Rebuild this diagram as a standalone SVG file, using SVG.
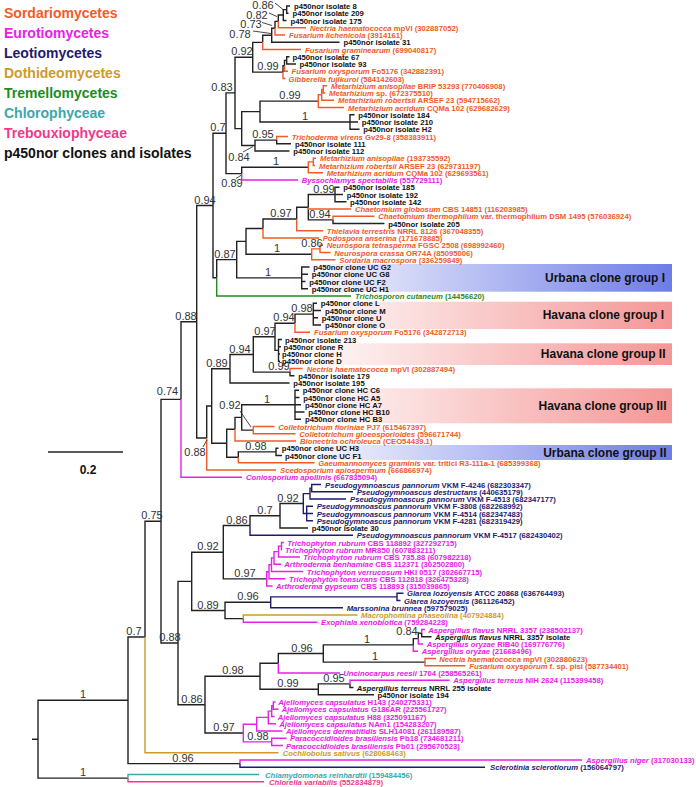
<svg xmlns="http://www.w3.org/2000/svg" width="696" height="787" viewBox="0 0 696 787">
<style>
text{font-family:"Liberation Sans",Arial,sans-serif}
.t{font-size:7.7px;font-weight:bold}
.i{font-style:italic}
.lg{font-size:14px;font-weight:bold}
.bs{font-size:11px;fill:#333;text-anchor:middle}
.bd{font-size:12px;font-weight:bold;fill:#111;text-anchor:end}
.k{fill:#111}.o{fill:#F15A29}.m{fill:#E820E8}.n{fill:#1F1A6E}.g{fill:#CE9A2B}.gr{fill:#1E8C1E}.te{fill:#38A8AC}.p{fill:#F0398A}
path{fill:none;stroke-width:1.4}
.sk{stroke:#222}.so{stroke:#F15A29}.sm{stroke:#E820E8}.sn{stroke:#1F1A6E}.sg{stroke:#CE9A2B}.sgr{stroke:#1E8C1E}.ste{stroke:#38A8AC}.sp{stroke:#F0398A}
.ptr{stroke:#333;stroke-width:0.9}
</style>
<defs>
<linearGradient id="gb" x1="0" x2="1" y1="0" y2="0"><stop offset="0" stop-color="#6E7CE6" stop-opacity="0"/><stop offset="1" stop-color="#6E7CE6"/></linearGradient>
<linearGradient id="gp" x1="0" x2="1" y1="0" y2="0"><stop offset="0" stop-color="#F59696" stop-opacity="0"/><stop offset="1" stop-color="#F59696"/></linearGradient>
</defs>
<rect width="696" height="787" fill="#fff"/>
<g id="bands">
<g id="urbana1"><rect x="290" y="264" width="382" height="27.7" fill="url(#gb)"/><text class="bd" x="665" y="281.5">Urbana clone group I</text></g>
<g id="havana1"><rect x="290" y="301.7" width="382" height="27.3" fill="url(#gp)"/><text class="bd" x="664" y="319.3">Havana clone group I</text></g>
<g id="havana2"><rect x="290" y="343.3" width="382" height="21.7" fill="url(#gp)"/><text class="bd" x="665.5" y="358.3">Havana clone group II</text></g>
<g id="havana3"><rect x="290" y="388.3" width="382" height="35" fill="url(#gp)"/><text class="bd" x="666.5" y="410.3">Havana clone group III</text></g>
<g id="urbana2"><rect x="290" y="445" width="382" height="15" fill="url(#gb)"/><text class="bd" x="666.5" y="456.6">Urbana clone group II</text></g>
</g>
<g id="legend">
<text class="lg o" x="4" y="17.5">Sordariomycetes</text>
<text class="lg m" x="4" y="37.5">Eurotiomycetes</text>
<text class="lg n" x="4" y="57.5">Leotiomycetes</text>
<text class="lg g" x="4" y="77.5">Dothideomycetes</text>
<text class="lg gr" x="4" y="97.5">Tremellomycetes</text>
<text class="lg te" x="4" y="117.5">Chlorophyceae</text>
<text class="lg p" x="4" y="137.5">Trebouxiophyceae</text>
<text class="lg k" x="4" y="157.5">p450nor clones and isolates</text>
</g>
<g id="scale"><path class="sk" d="M48 452H123"/><text x="88" y="474" style="font-size:12px;font-weight:bold;text-anchor:middle" class="k">0.2</text></g>
<g id="connectors">
<path class="sk" d="M286.7 9.625V6H290M286.7 9.625V13.25H288.5M283.3 15.06V9.625H286.7M283.3 15.06V20.5H286.5M278.3 21.41V15.06H283.3M275 28.2V21.41H278.3M271.7 35.23V28.2H275M271.7 35.23V42.25H339.5M262.7 42.36V35.23H271.7M286.7 60.375V56.75H289.5M286.7 60.375V64H296M284.5 65.8V60.375H286.7M283 72.15V65.8H284.5M252.7 57.26V42.36H262.7M252.7 57.26V72.15H283M350 122V114.75H354.5M350 122H358M350 122V129.25H359.5M260 111.6V101.15H318.3M260 111.6V122H350M276.7 140.1V143.75H291M255 145.56V140.1H276.7M255 145.56V151H289.5M241.7 128.6V111.6H260M241.7 128.6V145.56H255M235 92.9V57.26H252.7M235 92.9V128.6H241.7M241.7 173.65V167.3H308.3M226 133.3V92.9H235M226 133.3V173.65H241.7"/>
<path class="sk" d="M335 194.5V187.25H339.5M335 194.5H343M335 194.5V201.75H346.5M333 219.9V223.5H384.5M308.3 207.2V194.5H335M308.3 207.2V219.9H333M296.7 219V207.2H308.3M263 228.5V219H296.7M246 241.4V228.5H263M246 241.4V254.3H311.7M301.7 277.9V267H309.5M301.7 277.9V274.25H308M301.7 277.9V281.5H305.5M301.7 277.9V288.75H308M236.7 259.6V241.4H246M236.7 259.6V277.9H301.7M216.7 277.8V259.6H236.7M213 205.5V133.3H226M213 205.5V277.8H216.7"/>
<path class="sk" d="M313.3 314.1V303.25H317M313.3 314.1V310.5H321M313.3 314.1V317.75H318M313.3 314.1V325H321M295 323.2V314.1H313.3M278.5 350.4V339.5H282M278.5 350.4V346.75H281M278.5 350.4V354H280M278.5 350.4V361.25H280M275 336.8V323.2H295M275 336.8V350.4H278.5M290 372.1V375.75H294.5M253.3 354.5V336.8H275M253.3 354.5V372.1H290M230 368.8V354.5H253.3M230 368.8V383H289.5M295 404.75V390.25H299M295 404.75V397.5H299.5M295 404.75H301M295 404.75V412H304.5M295 404.75V419.25H301M241.7 417.4V404.75H295M241.7 417.4V430.1H253.3M235 429.2V417.4H241.7M276 451.9V448.25H278.5M276 451.9V455.5H282M238.3 457.3V451.9H276M226.7 443.25V429.2H235M226.7 443.25V457.3H238.3M211.7 406V368.8H230M211.7 406V443.25H226.7M206.7 438V406H211.7M196.7 321.8V205.5H213M196.7 321.8V438H206.7M181 399.4V321.8H196.7"/>
<path class="sk" d="M280 515.75V503.5H303.3M280 515.75V528H308M250 525.5V515.75H280M223.3 552.2V525.5H250M223.3 552.2V578.9H266.7M225 610.5V602.3H270.7M225 610.5V618.6H243.3M191.7 581.4V552.2H223.3M191.7 581.4V610.5H225M421.7 633.1V636.75H431.5M418.3 638.6V633.1H421.7M413.3 644.9V638.6H418.3M323.3 653.5V644.9H413.3M323.3 653.5V662.1H425M278.3 663.25V653.5H323.3M350 683.9V687.5H353.5M318.3 689.3V683.9H350M318.3 689.3V694.75H374M260 676.3V663.25H278.3M260 676.3V689.3H318.3M205 704.7V676.3H260M205 704.7V733H243.3M178 643V581.4H191.7M178 643V704.7H205M161 521.2V399.4H181M161 521.2V643H178M145 637V521.2H161M128 700.3V637H145M128 700.3V763.6H240M38 739.2V700.3H128M38 739.2V778.1H128M32 739.2H38"/>
<path class="so" d="M278.3 21.41V27.75H306M275 28.2V35H285M262.7 42.36V49.5H301M284.5 65.8V71.25H288M283 72.15V78.5H285.5M323.3 89.375V85.75H327M323.3 89.375V93H325M321.7 94.8V89.375H323.3M321.7 94.8V100.25H334M318.3 101.15V94.8H321.7M318.3 101.15V107.5H344M276.7 140.1V136.5H288M313.3 161.9V158.25H316M313.3 161.9V165.5H315M308.3 167.3V161.9H313.3M308.3 167.3V172.75H323M308.3 207.2V209H351M333 219.9V216.25H374.5M296.7 219V230.75H323M263 228.5V238H319M320 248.9V245.25H323M320 248.9V252.5H330.5M311.7 254.3V248.9H320M311.7 254.3V259.75H335.5M295 323.2V332.25H310M290 372.1V368.5H302.5M253.3 430.1V426.5H274.5M253.3 430.1V433.75H295.5M235 429.2V441H296M238.3 457.3V462.75H314.5M206.7 438V470H276M425 662.1V658.5H436M425 662.1V665.75H465.5"/>
<path class="sm" d="M241.7 173.65V180H298M181 399.4V477.25H242M281.5 546.1V542.5H284M281.5 546.1V549.75H282M278.5 551.6V546.1H281.5M278.5 551.6V557H300M274 557.9V551.6H278.5M274 557.9V564.25H281M271.5 564.7V557.9H274M271.5 564.7V571.5H303M269 571.7V564.7H271.5M269 571.7V578.75H285.5M266.7 578.9V571.7H269M266.7 578.9V586H272.5M243.3 618.6V622.25H317.5M421.7 633.1V629.5H425M418.3 638.6V644H423M413.3 644.9V651.25H418M278.3 663.25V673H340M350 683.9V680.25H449.5M273.3 705.6V702H275.5M273.3 705.6V709.25H278.5M271.7 711.1V705.6H273.3M271.7 711.1V716.5H274.5M268.3 717.4V711.1H271.7M268.3 717.4V723.75H276M256.7 724.2V717.4H268.3M256.7 724.2V731H282.5M271.7 741.9V738.25H286.5M271.7 741.9V745.5H283M243.3 733V724.2H256.7M243.3 733V741.9H271.7M240 763.6V760H582"/>
<path class="sn" d="M311.7 488.1V484.5H321M311.7 488.1V491.75H353M310 493.6V488.1H311.7M310 493.6V499H346M306.7 513.5V506.25H313M306.7 513.5H313M306.7 513.5V520.75H313M303.3 503.5V493.6H310M303.3 503.5V513.5H306.7M250 525.5V535.25H353M397 596.9V593.25H403.5M397 596.9V600.5H400.5M270.7 602.3V596.9H397M270.7 602.3V607.75H343M240 763.6V767.25H485"/>
<path class="sg" d="M243.3 618.6V615H357.5M145 637V752.75H278.5"/>
<path class="sgr" d="M216.7 277.8V296H351"/>
<path class="ste" d="M128 778.1V774.5H259"/>
<path class="sp" d="M128 778.1V781.75H264"/>
<path class="ptr" d="M275 3L283 9.5M269 13L277 16.5M262 22.5L272 25.5M253 31L271 33.5M243 152L253 146.5M236 178.5L241.5 175M240 411L251 427M203 447L207 440M417 632L421 634"/>
</g>
<g id="support">
<text class="bs" x="263" y="9">0.86</text>
<text class="bs" x="257" y="19">0.82</text>
<text class="bs" x="251" y="28">0.73</text>
<text class="bs" x="240" y="38">0.78</text>
<text class="bs" x="242" y="55">0.92</text>
<text class="bs" x="268" y="70">0.99</text>
<text class="bs" x="222" y="91">0.83</text>
<text class="bs" x="290" y="99">0.99</text>
<text class="bs" x="305" y="120">1</text>
<text class="bs" x="218" y="131">0.7</text>
<text class="bs" x="263" y="138">0.95</text>
<text class="bs" x="239" y="161">0.84</text>
<text class="bs" x="276" y="165">1</text>
<text class="bs" x="232" y="187">0.89</text>
<text class="bs" x="205" y="203.5">0.94</text>
<text class="bs" x="324" y="192.5">0.99</text>
<text class="bs" x="281" y="217">0.97</text>
<text class="bs" x="320" y="218">0.94</text>
<text class="bs" x="225" y="257.6">0.87</text>
<text class="bs" x="277" y="252.3">1</text>
<text class="bs" x="312" y="247">0.86</text>
<text class="bs" x="268" y="276">1</text>
<text class="bs" x="186" y="320">0.88</text>
<text class="bs" x="302" y="312">0.98</text>
<text class="bs" x="284" y="321">0.94</text>
<text class="bs" x="265" y="335">0.97</text>
<text class="bs" x="240" y="352.5">0.94</text>
<text class="bs" x="217" y="367">0.89</text>
<text class="bs" x="279" y="370">0.99</text>
<text class="bs" x="167.5" y="395">0.74</text>
<text class="bs" x="230" y="409">0.92</text>
<text class="bs" x="267" y="402.7">1</text>
<text class="bs" x="195" y="456">0.88</text>
<text class="bs" x="256" y="450">0.98</text>
<text class="bs" x="237" y="523.5">0.86</text>
<text class="bs" x="265" y="513.7">0.7</text>
<text class="bs" x="288" y="501.5">0.92</text>
<text class="bs" x="245" y="577">0.97</text>
<text class="bs" x="208" y="550">0.92</text>
<text class="bs" x="208" y="608.5">0.89</text>
<text class="bs" x="248" y="600.3">0.96</text>
<text class="bs" x="152" y="519">0.75</text>
<text class="bs" x="170" y="641">0.88</text>
<text class="bs" x="134" y="635">0.7</text>
<text class="bs" x="407" y="635">0.84</text>
<text class="bs" x="367" y="643">1</text>
<text class="bs" x="302" y="651.5">0.96</text>
<text class="bs" x="375" y="660">1</text>
<text class="bs" x="233" y="674.3">0.98</text>
<text class="bs" x="288" y="687.3">0.99</text>
<text class="bs" x="334" y="682">0.95</text>
<text class="bs" x="192" y="702.7">0.86</text>
<text class="bs" x="224" y="731">0.97</text>
<text class="bs" x="258" y="740">0.98</text>
<text class="bs" x="183" y="761.6">0.96</text>
<text class="bs" x="83" y="698.3">1</text>
<text class="bs" x="83" y="776">1</text>
</g>
<g id="leaves">
<g id="l1"><text class="t k" x="294" y="9">p450nor isolate 8</text></g>
<g id="l2"><text class="t k" x="292.5" y="16.25">p450nor isolate 209</text></g>
<g id="l3"><text class="t k" x="290.5" y="23.5">p450nor isolate 175</text></g>
<g id="l4"><text class="t o" x="310" y="30.75"><tspan class="i">Nectria haematococca</tspan> mpVI (302887052)</text></g>
<g id="l5"><text class="t o" x="289" y="38"><tspan class="i">Fusarium lichenicola</tspan> (3914161)</text></g>
<g id="l6"><text class="t k" x="343.5" y="45.25">p450nor isolate 31</text></g>
<g id="l7"><text class="t o" x="305" y="52.5"><tspan class="i">Fusarium graminearum</tspan> (699040817)</text></g>
<g id="l8"><text class="t k" x="292.5" y="59.75">p450nor isolate 67</text></g>
<g id="l9"><text class="t k" x="299.5" y="67">p450nor isolate 93</text></g>
<g id="l10"><text class="t o" x="291.5" y="74.25"><tspan class="i">Fusarium oxysporum</tspan> Fo5176 (342882391)</text></g>
<g id="l11"><text class="t o" x="288.5" y="81.5"><tspan class="i">Gibberella fujikuroi</tspan> (584142603)</text></g>
<g id="l12"><text class="t o" x="331" y="88.75"><tspan class="i">Metarhizium anisopliae</tspan> BRIP 53293 (770406908)</text></g>
<g id="l13"><text class="t o" x="329" y="96"><tspan class="i">Metarhizium</tspan> sp. (672375510)</text></g>
<g id="l14"><text class="t o" x="338" y="103.25"><tspan class="i">Metarhizium robertsii</tspan> ARSEF 23 (594715662)</text></g>
<g id="l15"><text class="t o" x="348" y="110.5"><tspan class="i">Metarhizium acridum</tspan> CQMa 102 (629682629)</text></g>
<g id="l16"><text class="t k" x="358.3" y="117.75">p450nor isolate 184</text></g>
<g id="l17"><text class="t k" x="361.7" y="125">p450nor isolate 210</text></g>
<g id="l18"><text class="t k" x="363.3" y="132.25">p450nor isolate H2</text></g>
<g id="l19"><text class="t o" x="291.7" y="139.5"><tspan class="i">Trichoderma virens</tspan> Gv29-8 (358383911)</text></g>
<g id="l20"><text class="t k" x="295" y="146.75">p450nor isolate 111</text></g>
<g id="l21"><text class="t k" x="293.3" y="154">p450nor isolate 112</text></g>
<g id="l22"><text class="t o" x="320" y="161.25"><tspan class="i">Metarhizium anisopliae</tspan> (193735592)</text></g>
<g id="l23"><text class="t o" x="319" y="168.5"><tspan class="i">Metarhizium robertsii</tspan> ARSEF 23 (629731197)</text></g>
<g id="l24"><text class="t o" x="326.7" y="175.75"><tspan class="i">Metarhizium acridum</tspan> CQMa 102 (629693561)</text></g>
<g id="l25"><text class="t m" x="301.7" y="183"><tspan class="i">Byssochlamys spectabilis</tspan> (557729111)</text></g>
<g id="l26"><text class="t k" x="343.3" y="190.25">p450nor isolate 185</text></g>
<g id="l27"><text class="t k" x="346.7" y="197.5">p450nor isolate 192</text></g>
<g id="l28"><text class="t k" x="350" y="204.75">p450nor isolate 142</text></g>
<g id="l29"><text class="t o" x="355" y="212"><tspan class="i">Chaetomium globosum</tspan> CBS 14851 (116203985)</text></g>
<g id="l30"><text class="t o" x="378.3" y="219.25"><tspan class="i">Chaetomium thermophilum</tspan> var. thermophilum DSM 1495 (576036924)</text></g>
<g id="l31"><text class="t k" x="388.3" y="226.5">p450nor isolate 205</text></g>
<g id="l32"><text class="t o" x="326.7" y="233.75"><tspan class="i">Thielavia terrestris</tspan> NRRL 8126 (367048355)</text></g>
<g id="l33"><text class="t o" x="322.7" y="241"><tspan class="i">Podospora anserina</tspan> (171678885)</text></g>
<g id="l34"><text class="t o" x="326.7" y="248.25"><tspan class="i">Neurospora tetrasperma</tspan> FGSC 2508 (698992460)</text></g>
<g id="l35"><text class="t o" x="334.3" y="255.5"><tspan class="i">Neurospora crassa</tspan> OR74A (85095006)</text></g>
<g id="l36"><text class="t o" x="339.3" y="262.75"><tspan class="i">Sordaria macrospora</tspan> (336259849)</text></g>
<g id="l37"><text class="t k" x="313.3" y="270">p450nor clone UC G2</text></g>
<g id="l38"><text class="t k" x="311.7" y="277.25">p450nor clone UC G8</text></g>
<g id="l39"><text class="t k" x="309.3" y="284.5">p450nor clone UC F2</text></g>
<g id="l40"><text class="t k" x="311.7" y="291.75">p450nor clone UC H1</text></g>
<g id="l41"><text class="t gr" x="355" y="299"><tspan class="i">Trichosporon cutaneum</tspan> (14456620)</text></g>
<g id="l42"><text class="t k" x="320.7" y="306.25">p450nor clone L</text></g>
<g id="l43"><text class="t k" x="325" y="313.5">p450nor clone M</text></g>
<g id="l44"><text class="t k" x="321.7" y="320.75">p450nor clone U</text></g>
<g id="l45"><text class="t k" x="325" y="328">p450nor clone O</text></g>
<g id="l46"><text class="t o" x="314" y="335.25"><tspan class="i">Fusarium oxysporum</tspan> Fo5176 (342872713)</text></g>
<g id="l47"><text class="t k" x="285" y="342.5">p450nor isolate 213</text></g>
<g id="l48"><text class="t k" x="283.5" y="349.75">p450nor clone R</text></g>
<g id="l49"><text class="t k" x="282" y="357">p450nor clone H</text></g>
<g id="l50"><text class="t k" x="282" y="364.25">p450nor clone D</text></g>
<g id="l51"><text class="t o" x="306.7" y="371.5"><tspan class="i">Nectria haematococca</tspan> mpVI (302887494)</text></g>
<g id="l52"><text class="t k" x="298.3" y="378.75">p450nor isolate 179</text></g>
<g id="l53"><text class="t k" x="293.3" y="386">p450nor isolate 195</text></g>
<g id="l54"><text class="t k" x="302.7" y="393.25">p450nor clone HC C6</text></g>
<g id="l55"><text class="t k" x="303.3" y="400.5">p450nor clone HC A5</text></g>
<g id="l56"><text class="t k" x="305" y="407.75">p450nor clone HC A7</text></g>
<g id="l57"><text class="t k" x="308.3" y="415">p450nor clone HC B10</text></g>
<g id="l58"><text class="t k" x="305" y="422.25">p450nor clone HC B3</text></g>
<g id="l59"><text class="t o" x="278.3" y="429.5"><tspan class="i">Colletotrichum fioriniae</tspan> PJ7 (615467397)</text></g>
<g id="l60"><text class="t o" x="299.3" y="436.75"><tspan class="i">Colletotrichum gloeosporioides</tspan> (596671744)</text></g>
<g id="l61"><text class="t o" x="300" y="444"><tspan class="i">Bionectria ochroleuca</tspan> (CEO54439.1)</text></g>
<g id="l62"><text class="t k" x="281.7" y="451.25">p450nor clone UC H3</text></g>
<g id="l63"><text class="t k" x="285" y="458.5">p450nor clone UC F1</text></g>
<g id="l64"><text class="t o" x="318.3" y="465.75"><tspan class="i">Gaeumannomyces graminis</tspan> var. tritici R3-111a-1 (685399368)</text></g>
<g id="l65"><text class="t o" x="280" y="473"><tspan class="i">Scedosporium apiospermum</tspan> (666866974)</text></g>
<g id="l66"><text class="t m" x="246" y="480.25"><tspan class="i">Coniosporium apollinis</tspan> (667835094)</text></g>
<g id="l67"><text class="t n" x="325" y="487.5"><tspan class="i">Pseudogymnoascus pannorum</tspan> VKM F-4246 (682303347)</text></g>
<g id="l68"><text class="t n" x="356.7" y="494.75"><tspan class="i">Pseudogymnoascus destructans</tspan> (440635179)</text></g>
<g id="l69"><text class="t n" x="350" y="502"><tspan class="i">Pseudogymnoascus pannorum</tspan> VKM F-4513 (682347177)</text></g>
<g id="l70"><text class="t n" x="316.7" y="509.25"><tspan class="i">Pseudogymnoascus pannorum</tspan> VKM F-3808 (682268992)</text></g>
<g id="l71"><text class="t n" x="316.7" y="516.5"><tspan class="i">Pseudogymnoascus pannorum</tspan> VKM F-4514 (682347483)</text></g>
<g id="l72"><text class="t n" x="316.7" y="523.75"><tspan class="i">Pseudogymnoascus pannorum</tspan> VKM F-4281 (682319429)</text></g>
<g id="l73"><text class="t k" x="311.7" y="531">p450nor isolate 30</text></g>
<g id="l74"><text class="t n" x="356.7" y="538.25"><tspan class="i">Pseudogymnoascus pannorum</tspan> VKM F-4517 (682430402)</text></g>
<g id="l75"><text class="t m" x="287.3" y="545.5"><tspan class="i">Trichophyton rubrum</tspan> CBS 118892 (327292715)</text></g>
<g id="l76"><text class="t m" x="285" y="552.75"><tspan class="i">Trichophyton rubrum</tspan> MR850 (607883211)</text></g>
<g id="l77"><text class="t m" x="303.3" y="560"><tspan class="i">Trichophyton rubrum</tspan> CBS 735.88 (607982218)</text></g>
<g id="l78"><text class="t m" x="284.3" y="567.25"><tspan class="i">Arthroderma benhamiae</tspan> CBS 112371 (302502800)</text></g>
<g id="l79"><text class="t m" x="306.7" y="574.5"><tspan class="i">Trichophyton verrucosum</tspan> HKI 0517 (302667715)</text></g>
<g id="l80"><text class="t m" x="289" y="581.75"><tspan class="i">Trichophyton tonsurans</tspan> CBS 112818 (326475328)</text></g>
<g id="l81"><text class="t m" x="276" y="589"><tspan class="i">Arthroderma gypseum</tspan> CBS 118893 (315039865)</text></g>
<g id="l82"><text class="t n" x="407" y="596.25"><tspan class="i">Glarea lozoyensis</tspan> ATCC 20868 (636764493)</text></g>
<g id="l83"><text class="t n" x="404" y="603.5"><tspan class="i">Glarea lozoyensis</tspan> (361126452)</text></g>
<g id="l84"><text class="t n" x="346.7" y="610.75"><tspan class="i">Marssonina brunnea</tspan> (597579025)</text></g>
<g id="l85"><text class="t g" x="361" y="618"><tspan class="i">Macrophomina phaseolina</tspan> (407924884)</text></g>
<g id="l86"><text class="t m" x="321" y="625.25"><tspan class="i">Exophiala xenobiotica</tspan> (759284228)</text></g>
<g id="l87"><text class="t m" x="428.3" y="632.5"><tspan class="i">Aspergillus flavus</tspan> NRRL 3357 (238502137)</text></g>
<g id="l88"><text class="t k" x="435" y="639.75"><tspan class="i">Aspergillus flavus</tspan> NRRL 3357 isolate</text></g>
<g id="l89"><text class="t m" x="426.7" y="647"><tspan class="i">Aspergillus oryzae</tspan> RIB40 (169776776)</text></g>
<g id="l90"><text class="t m" x="421.7" y="654.25"><tspan class="i">Aspergillus oryzae</tspan> (21668496)</text></g>
<g id="l91"><text class="t o" x="439.3" y="661.5"><tspan class="i">Nectria haematococca</tspan> mpVI (302880623)</text></g>
<g id="l92"><text class="t o" x="469.3" y="668.75"><tspan class="i">Fusarium oxysporum</tspan> f. sp. pisi (587734401)</text></g>
<g id="l93"><text class="t m" x="343.3" y="676"><tspan class="i">Uncinocarpus reesii</tspan> 1704 (258565261)</text></g>
<g id="l94"><text class="t m" x="453.3" y="683.25"><tspan class="i">Aspergillus terreus</tspan> NIH 2624 (115399458)</text></g>
<g id="l95"><text class="t k" x="356.7" y="690.5"><tspan class="i">Aspergillus terreus</tspan> NRRL 255 isolate</text></g>
<g id="l96"><text class="t k" x="377.5" y="697.75">p450nor isolate 194</text></g>
<g id="l97"><text class="t m" x="278.3" y="705"><tspan class="i">Ajellomyces capsulatus</tspan> H143 (240275331)</text></g>
<g id="l98"><text class="t m" x="281.7" y="712.25"><tspan class="i">Ajellomyces capsulatus</tspan> G186AR (225561727)</text></g>
<g id="l99"><text class="t m" x="277.7" y="719.5"><tspan class="i">Ajellomyces capsulatus</tspan> H88 (325091167)</text></g>
<g id="l100"><text class="t m" x="279.3" y="726.75"><tspan class="i">Ajellomyces capsulatus</tspan> NAm1 (154283207)</text></g>
<g id="l101"><text class="t m" x="286" y="734"><tspan class="i">Ajellomyces dermatitidis</tspan> SLH14081 (261189587)</text></g>
<g id="l102"><text class="t m" x="290" y="741.25"><tspan class="i">Paracoccidioides brasiliensis</tspan> Pb18 (734681211)</text></g>
<g id="l103"><text class="t m" x="286" y="748.5"><tspan class="i">Paracoccidioides brasiliensis</tspan> Pb01 (295670523)</text></g>
<g id="l104"><text class="t g" x="282.7" y="755.75"><tspan class="i">Cochliobolus sativus</tspan> (628068463)</text></g>
<g id="l105"><text class="t m" x="586" y="763"><tspan class="i">Aspergillus niger</tspan> (317030133)</text></g>
<g id="l106"><text class="t n" x="490" y="770.25"><tspan class="i">Sclerotinia sclerotiorum</tspan> (156064797)</text></g>
<g id="l107"><text class="t te" x="265" y="777.5"><tspan class="i">Chlamydomonas reinhardtii</tspan> (159484456)</text></g>
<g id="l108"><text class="t p" x="269" y="784.75"><tspan class="i">Chlorella variabilis</tspan> (552834879)</text></g>
</g>
</svg>
